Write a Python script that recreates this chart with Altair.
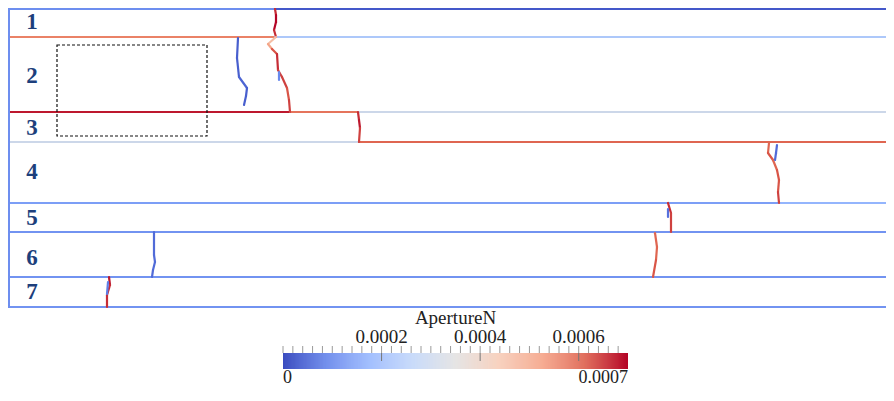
import altair as alt
import pandas as pd
import numpy as np

# ---------------- view extents (model-view units) ----------------
X_MIN, X_MAX = 8, 886
Y_MIN, Y_MAX = 8, 388
VMAX = 0.0007
COOLWARM = ['#3b4cc0', '#6282ea', '#8db0fe', '#b8d0f9', '#dddcdc',
            '#f5c4ac', '#f49a7b', '#dc5d4a', '#b40426']

# ---------------- layer interfaces (segments) ----------------
iface_x1 = [9, 275, 9, 275, 9, 290, 359, 9, 359, 9, 779, 9, 9, 9, 9]
iface_x2 = [275, 886, 275, 886, 290, 359, 886, 359, 886, 779, 886, 886, 886, 886, 9]
iface_y1 = [9, 9, 37, 37, 112, 112, 112, 142, 142, 203, 203, 232, 277, 307, 9]
iface_y2 = [9, 9, 37, 37, 112, 112, 112, 142, 142, 203, 203, 232, 277, 307, 307]
iface_v = [0.00011, 0.00002, 0.00056, 0.00024, 0.00068, 0.00058, 0.00031,
           0.00031, 0.00060, 0.00014, 0.00019, 0.00012, 0.00012, 0.00012, 0.00011]

# ---------------- fractures (polylines, value per segment) ----------------
frac_x = [
    [275, 276, 276, 274, 276],
    [238, 237, 239, 247, 246, 244],
    [276, 268, 272, 277, 278, 282, 287, 289, 290],
    [279, 279],
    [358, 359, 360, 359],
    [769, 768, 773, 777, 779, 778, 779],
    [777, 776, 775],
    [668, 671, 671],
    [668, 668],
    [655, 657, 656, 653],
    [154, 154, 155, 153, 152],
    [109, 110, 107, 107],
    [108, 107],
]
frac_y = [
    [9, 15, 22, 30, 37],
    [38, 58, 77, 88, 96, 105],
    [37, 44, 49, 54, 70, 77, 88, 100, 112],
    [72, 80],
    [112, 120, 128, 142],
    [143, 153, 160, 170, 180, 192, 203],
    [145, 153, 160],
    [203, 213, 232],
    [209, 217],
    [233, 247, 260, 277],
    [232, 255, 262, 270, 277],
    [277, 285, 295, 307],
    [282, 294],
]
frac_v = [
    [0.00066, 0.00070, 0.00070, 0.00066],
    [0.00003, 0.00003, 0.00004, 0.00003, 0.00003],
    [0.00045, 0.00050, 0.00062, 0.00066, 0.00064, 0.00064, 0.00062, 0.00064],
    [0.00010],
    [0.00066, 0.00068, 0.00064],
    [0.00060, 0.00062, 0.00060, 0.00062, 0.00062, 0.00064],
    [0.00005, 0.00005],
    [0.00066, 0.00064],
    [0.00006],
    [0.00060, 0.00060, 0.00062],
    [0.00005, 0.00005, 0.00005, 0.00005],
    [0.00068, 0.00066, 0.00066],
    [0.00008],
]

# ---------------- layer labels ----------------
layer_names = ["1", "2", "3", "4", "5", "6", "7"]
layer_label_x = [32, 32, 32, 32, 32, 32, 32]
layer_label_y = [22, 76, 128, 172, 218, 258, 292]

# ---------------- dashed box ----------------
box_x1, box_x2, box_y1, box_y2 = [57], [207], [45], [136]

# ---------------- colorbar ----------------
cb_title = "ApertureN"
cb_major = [0.0002, 0.0004, 0.0006]
cb_major_labels = ["0.0002", "0.0004", "0.0006"]
cb_start_value, cb_start_label = 0.0, "0"
cb_end_value, cb_end_label = 0.0007, "0.0007"
cb_minor = [round(i * 0.00002, 6) for i in range(35)]

# ---------------- build tables ----------------
iface = pd.DataFrame({"x": iface_x1, "x2": iface_x2, "y": iface_y1,
                      "y2": iface_y2, "v": iface_v})
rows = []
for xs_, ys_, vs_ in zip(frac_x, frac_y, frac_v):
    for i, v in enumerate(vs_):
        rows.append({"x": xs_[i], "y": ys_[i], "x2": xs_[i + 1],
                     "y2": ys_[i + 1], "v": v})
frac = pd.DataFrame(rows)
labels = pd.DataFrame({"x": layer_label_x, "y": layer_label_y, "t": layer_names})
box = pd.DataFrame({"x": box_x1, "x2": box_x2, "y": box_y1, "y2": box_y2})

grad_edges = np.linspace(0, VMAX, 347)
grad = pd.DataFrame({"v": grad_edges[:-1], "v2": grad_edges[1:]})
grad["c"] = (grad["v"] + grad["v2"]) / 2
minor = pd.DataFrame({"v": cb_minor})
major = pd.DataFrame({"v": cb_major, "t": cb_major_labels})
start_df = pd.DataFrame({"v": [cb_start_value], "t": [cb_start_label]})
end_df = pd.DataFrame({"v": [cb_end_value], "t": [cb_end_label]})
title_df = pd.DataFrame({"v": [VMAX / 2], "t": [cb_title]})

# ---------------- scales ----------------
xs = alt.Scale(domain=[X_MIN, X_MAX], nice=False, zero=False)
ys = alt.Scale(domain=[Y_MIN, Y_MAX], reverse=True, nice=False, zero=False)
cs = alt.Scale(domain=[float(d) for d in np.linspace(0, VMAX, len(COOLWARM))],
               range=COOLWARM, interpolate="rgb")
cbx = alt.Scale(domain=[0, VMAX], range=[283 - X_MIN, 628 - X_MIN], nice=False, zero=False)


def X(f):
    return alt.X(f, type="quantitative", scale=xs, axis=None)


def Y(f):
    return alt.Y(f, type="quantitative", scale=ys, axis=None)


def CBX(f):
    return alt.X(f, type="quantitative", scale=cbx, axis=None)


C = alt.Color("v:Q", scale=cs, legend=None)

iface_layer = alt.Chart(iface).mark_rule(strokeWidth=2, strokeCap="square").encode(
    x=X("x"), x2="x2:Q", y=Y("y"), y2="y2:Q", color=C)

frac_layer = alt.Chart(frac).mark_rule(strokeWidth=2.2, strokeCap="round").encode(
    x=X("x"), x2="x2:Q", y=Y("y"), y2="y2:Q", color=C)

box_layer = alt.Chart(box).mark_rect(fill=None, stroke="#111111", strokeWidth=1.2,
                                     strokeDash=[3, 2]).encode(
    x=X("x"), x2="x2:Q", y=Y("y"), y2="y2:Q")

label_layer = alt.Chart(labels).mark_text(font="Liberation Serif", fontWeight="bold",
                                          fontSize=23, color="#1d3f7c",
                                          align="center", baseline="middle").encode(
    x=X("x"), y=Y("y"), text="t:N")

grad_layer = alt.Chart(grad).mark_rect(strokeWidth=0).encode(
    x=CBX("v"), x2="v2:Q", y=alt.value(353 - Y_MIN), y2=alt.value(369 - Y_MIN),
    color=alt.Color("c:Q", scale=cs, legend=None))

minor_layer = alt.Chart(minor).mark_rule(color="#9a9a9a", strokeWidth=1).encode(
    x=CBX("v"), y=alt.value(346 - Y_MIN), y2=alt.value(353 - Y_MIN))

major_tick_layer = alt.Chart(major).mark_rule(color="#777777", strokeWidth=1).encode(
    x=CBX("v"), y=alt.value(353 - Y_MIN), y2=alt.value(361 - Y_MIN))

text_style = dict(font="Liberation Serif", fontSize=19, color="#222222", baseline="middle")
end_style = dict(font="Liberation Serif", fontSize=18, color="#222222", baseline="middle")

major_text_layer = alt.Chart(major).mark_text(align="center", **text_style).encode(
    x=CBX("v"), y=alt.value(337 - Y_MIN), text="t:N")

start_text_layer = alt.Chart(start_df).mark_text(align="left", **end_style).encode(
    x=CBX("v"), y=alt.value(378 - Y_MIN), text="t:N")

end_text_layer = alt.Chart(end_df).mark_text(align="right", **end_style).encode(
    x=CBX("v"), y=alt.value(378 - Y_MIN), text="t:N")

title_layer = alt.Chart(title_df).mark_text(align="center", **text_style).encode(
    x=CBX("v"), y=alt.value(318 - Y_MIN), text="t:N")

chart = alt.layer(
    iface_layer, frac_layer, box_layer, label_layer,
    grad_layer, minor_layer, major_tick_layer, major_text_layer,
    start_text_layer, end_text_layer, title_layer
).resolve_scale(x="independent").properties(
    width=X_MAX - X_MIN, height=Y_MAX - Y_MIN, padding=0,
    autosize=alt.AutoSizeParams(type="none")
).configure_view(stroke=None)

chart.save("out.html", embed_options={"renderer": "svg", "actions": False})
